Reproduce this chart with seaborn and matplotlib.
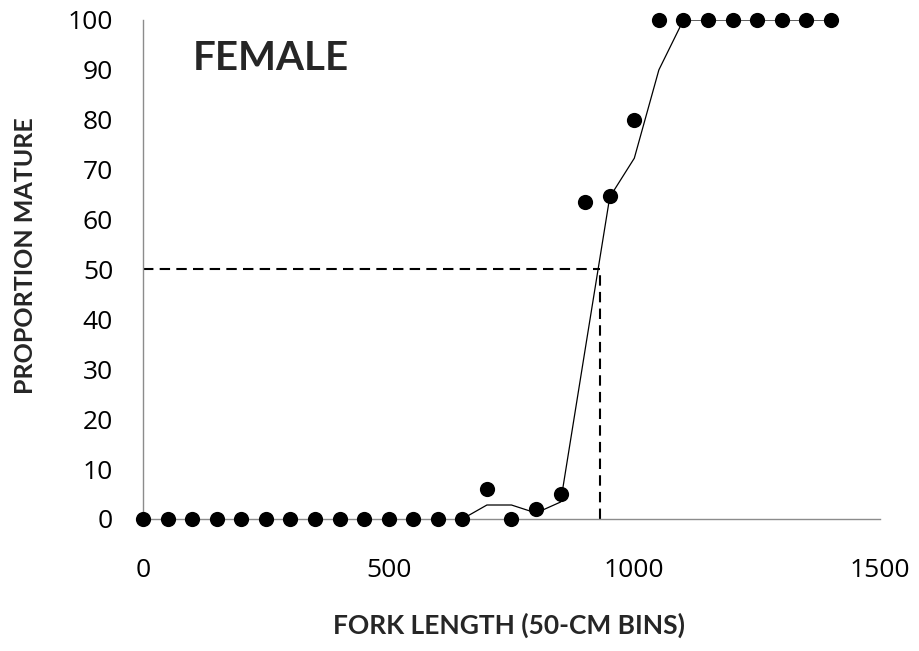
import matplotlib
matplotlib.use("Agg")
import matplotlib.pyplot as plt
import seaborn as sns
import pandas as pd
import numpy as np

# Observed proportion mature per 50-cm bin
fork_length = [0, 50, 100, 150, 200, 250, 300, 350, 400, 450, 500, 550, 600, 650,
               700, 750, 800, 850, 900, 950, 1000, 1050, 1100, 1150, 1200, 1250,
               1300, 1350, 1400]
observed = [0, 0, 0, 0, 0, 0, 0, 0, 0, 0, 0, 0, 0, 0,
            6, 0, 2, 5, 63.5, 64.7, 80, 100, 100, 100, 100, 100,
            100, 100, 100]

# Fitted curve
fit_length = [650, 700, 750, 800, 850, 900, 950, 1000, 1050, 1100, 1150, 1200,
              1250, 1300, 1350, 1400]
fitted = [0, 2.8, 2.8, 1.2, 3.4, 34, 64.5, 72.3, 90, 100, 100, 100,
          100, 100, 100, 100]

# 50% maturity length
l50 = 930
p50 = 50

obs_df = pd.DataFrame({"length": fork_length, "mature": observed})
fit_df = pd.DataFrame({"length": fit_length, "mature": fitted})

sns.set_theme(style="white")
plt.rcParams["font.family"] = ["Open Sans", "DejaVu Sans"]

fig = plt.figure(figsize=(9.2, 6.51), dpi=100)
ax = fig.add_axes([0.1554, 0.2028, 0.8011, 0.7665])

sns.lineplot(data=fit_df, x="length", y="mature", ax=ax, color="black",
             linewidth=0.9, zorder=2)
sns.scatterplot(data=obs_df, x="length", y="mature", ax=ax, color="black",
                s=120, edgecolor="black", linewidth=0, zorder=3, clip_on=False)

ax.plot([0, l50], [p50, p50], color="black", linestyle=(0, (5, 3)),
        linewidth=1.5, zorder=1)
ax.plot([l50, l50], [0, p50], color="black", linestyle=(0, (5, 3)),
        linewidth=1.5, zorder=1)

ax.set_xlim(0, 1500)
ax.set_ylim(0, 100)
ax.set_xticks([0, 500, 1000, 1500])
ax.set_xticks(np.arange(0, 1501, 100), minor=True)
ax.set_yticks(np.arange(0, 101, 10))

for s in ["top", "right"]:
    ax.spines[s].set_visible(False)
for s in ["left", "bottom"]:
    ax.spines[s].set_color("#8c8c8c")
    ax.spines[s].set_linewidth(1.0)

ax.tick_params(axis="both", which="both", direction="out", color="#8c8c8c",
               width=1.0, labelsize=19, labelcolor="black")
ax.tick_params(axis="x", which="major", length=6, pad=22)
ax.tick_params(axis="x", which="minor", length=6)
ax.tick_params(axis="y", which="major", length=7, pad=14.5)

ax.set_xlabel("FORK LENGTH (50-CM BINS)", fontsize=19, fontweight="bold",
              family=["Lato", "DejaVu Sans"], va="center")
ax.set_ylabel("PROPORTION MATURE", fontsize=18, fontweight="bold",
              family=["Lato", "DejaVu Sans"], va="center")
ax.xaxis.set_label_coords(0.4966, -0.2124)
ax.yaxis.set_label_coords(-0.160, 0.527)

ax.text(0.068, 0.90, "FEMALE", transform=ax.transAxes, fontsize=29,
        fontweight="bold", family=["Lato", "DejaVu Sans"], va="baseline", ha="left")

fig.savefig("out.png", dpi=100)
